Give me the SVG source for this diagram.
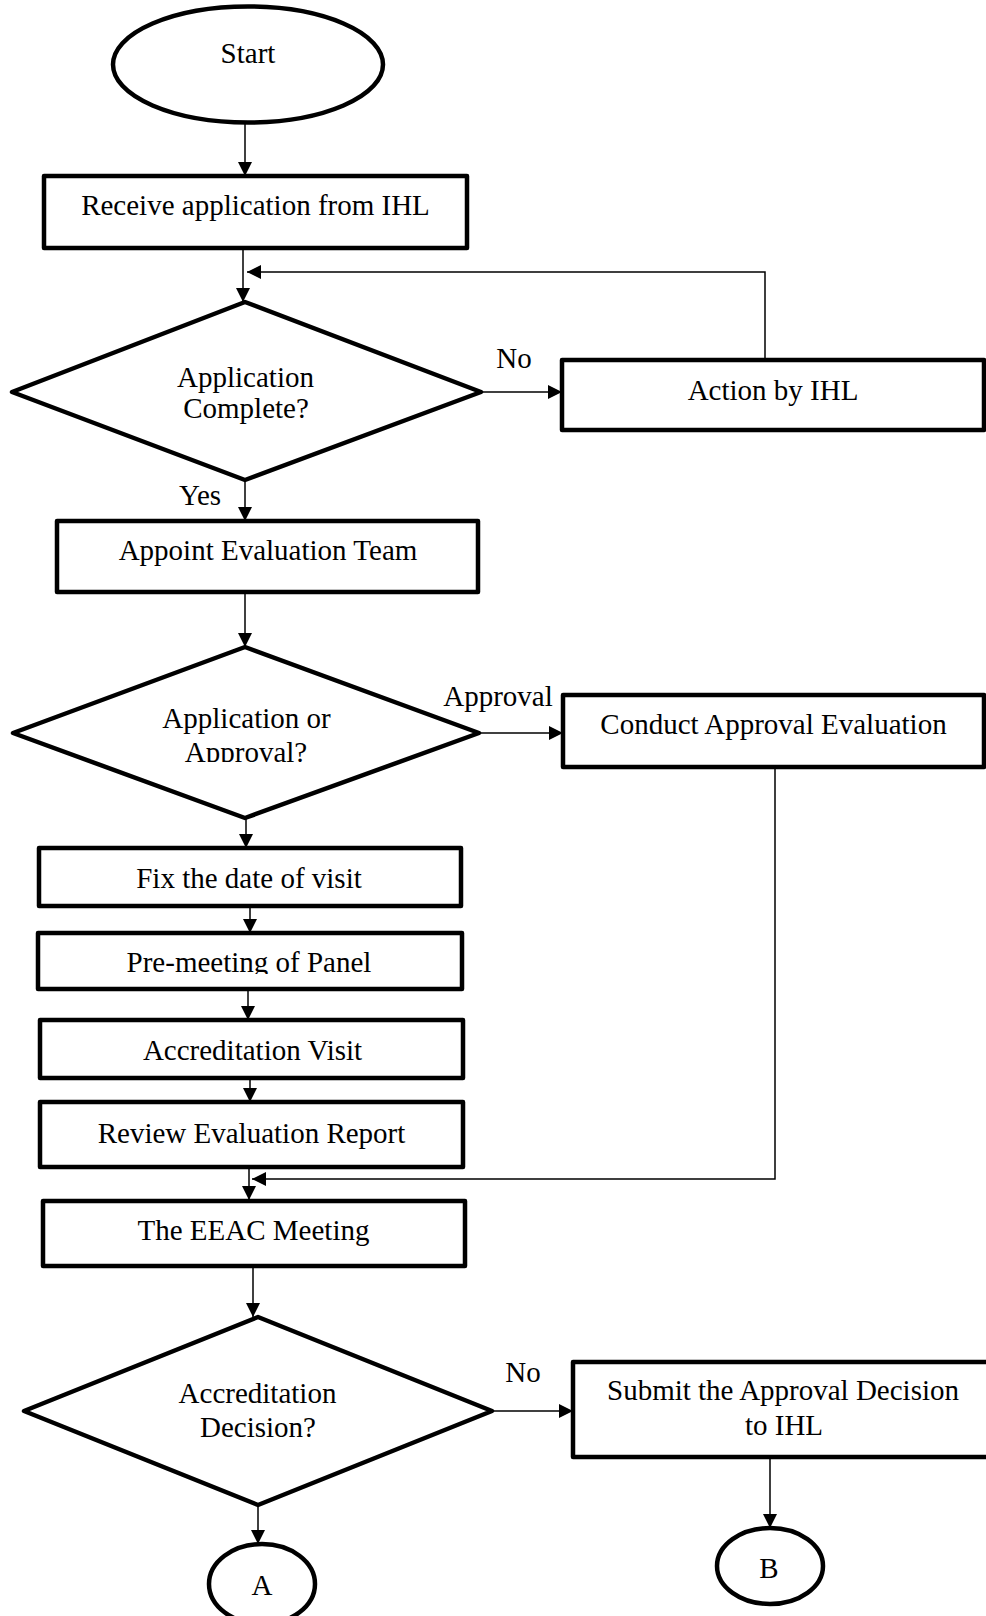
<svg xmlns="http://www.w3.org/2000/svg" width="986" height="1616" viewBox="0 0 986 1616">
<style>
.box{fill:#fff;stroke:#000;stroke-width:4.5;stroke-linejoin:round}
.c{fill:none;stroke:#000;stroke-width:1.5}
text{font-family:"Liberation Serif","Times New Roman",serif;font-size:29px;fill:#000;text-anchor:middle}
</style>
<defs>
<marker id="ah" markerUnits="userSpaceOnUse" markerWidth="14" markerHeight="14" refX="14" refY="7" orient="auto">
<path d="M0,0 L14,7 L0,14 z" fill="#000"/>
</marker>
<clipPath id="clipAppr"><rect x="0" y="600" width="986" height="162"/></clipPath>
<clipPath id="clipPre"><rect x="0" y="900" width="986" height="74"/></clipPath>
</defs>
<rect width="986" height="1616" fill="#fff"/>
<g id="connectors">
<path class="c" d="M245,123 V176" marker-end="url(#ah)"/>
<path class="c" d="M243,248 V302" marker-end="url(#ah)"/>
<path class="c" d="M765,360 V272 H247" marker-end="url(#ah)"/>
<path class="c" d="M481,392 H562" marker-end="url(#ah)"/>
<path class="c" d="M245,480 V521" marker-end="url(#ah)"/>
<path class="c" d="M245,592 V647" marker-end="url(#ah)"/>
<path class="c" d="M479,733 H563" marker-end="url(#ah)"/>
<path class="c" d="M246,818 V848" marker-end="url(#ah)"/>
<path class="c" d="M250,906 V933" marker-end="url(#ah)"/>
<path class="c" d="M248,989 V1020" marker-end="url(#ah)"/>
<path class="c" d="M250,1078 V1102" marker-end="url(#ah)"/>
<path class="c" d="M249,1167 V1200" marker-end="url(#ah)"/>
<path class="c" d="M775,767 V1179 H252" marker-end="url(#ah)"/>
<path class="c" d="M253,1266 V1317" marker-end="url(#ah)"/>
<path class="c" d="M492,1411 H573" marker-end="url(#ah)"/>
<path class="c" d="M258,1505 V1544" marker-end="url(#ah)"/>
<path class="c" d="M770,1457 V1528" marker-end="url(#ah)"/>
<text x="514" y="368">No</text>
<text x="200" y="505">Yes</text>
<text x="498" y="706">Approval</text>
<text x="523" y="1382">No</text>
</g>
<g id="start">
<ellipse class="box" cx="248" cy="64.5" rx="135" ry="58"/>
<text x="248" y="63">Start</text>
</g>
<g id="receive">
<rect class="box" x="44" y="176" width="423" height="72"/>
<text x="255.5" y="215">Receive application from IHL</text>
</g>
<g id="complete">
<polygon class="box" points="245,302 481,392 245,480 12,392"/>
<text x="245.5" y="387">Application</text>
<text x="246" y="418">Complete?</text>
</g>
<g id="action">
<rect class="box" x="562" y="360" width="422" height="70"/>
<text x="773" y="400">Action by IHL</text>
</g>
<g id="appoint">
<rect class="box" x="57" y="521" width="421" height="71"/>
<text x="268" y="560">Appoint Evaluation Team</text>
</g>
<g id="apporappr">
<polygon class="box" points="245,647 479,733 245,818 13,733"/>
<text x="246.5" y="728">Application or</text>
<text x="246" y="762" clip-path="url(#clipAppr)">Approval?</text>
</g>
<g id="conduct">
<rect class="box" x="563" y="695" width="421" height="72"/>
<text x="773.5" y="734">Conduct Approval Evaluation</text>
</g>
<g id="fix">
<rect class="box" x="39" y="848" width="422" height="58"/>
<text x="249" y="888">Fix the date of visit</text>
</g>
<g id="premeeting">
<rect class="box" x="38" y="933" width="424" height="56"/>
<text x="249" y="972" clip-path="url(#clipPre)">Pre-meeting of Panel</text>
</g>
<g id="visit">
<rect class="box" x="40" y="1020" width="423" height="58"/>
<text x="252.5" y="1060">Accreditation Visit</text>
</g>
<g id="review">
<rect class="box" x="40" y="1102" width="423" height="65"/>
<text x="251.5" y="1143">Review Evaluation Report</text>
</g>
<g id="eeac">
<rect class="box" x="43" y="1201" width="422" height="65"/>
<text x="253.5" y="1240">The EEAC Meeting</text>
</g>
<g id="decision">
<polygon class="box" points="258,1317 492,1411 258,1505 24,1411"/>
<text x="257.5" y="1403">Accreditation</text>
<text x="258" y="1437">Decision?</text>
</g>
<g id="submit">
<rect class="box" x="573" y="1362" width="425" height="95"/>
<text x="783" y="1400">Submit the Approval Decision</text>
<text x="784" y="1435">to IHL</text>
</g>
<g id="connA">
<ellipse class="box" cx="262" cy="1584" rx="53" ry="40"/>
<text x="262" y="1595">A</text>
</g>
<g id="connB">
<ellipse class="box" cx="770" cy="1566" rx="53" ry="38"/>
<text x="769" y="1578">B</text>
</g>
</svg>
